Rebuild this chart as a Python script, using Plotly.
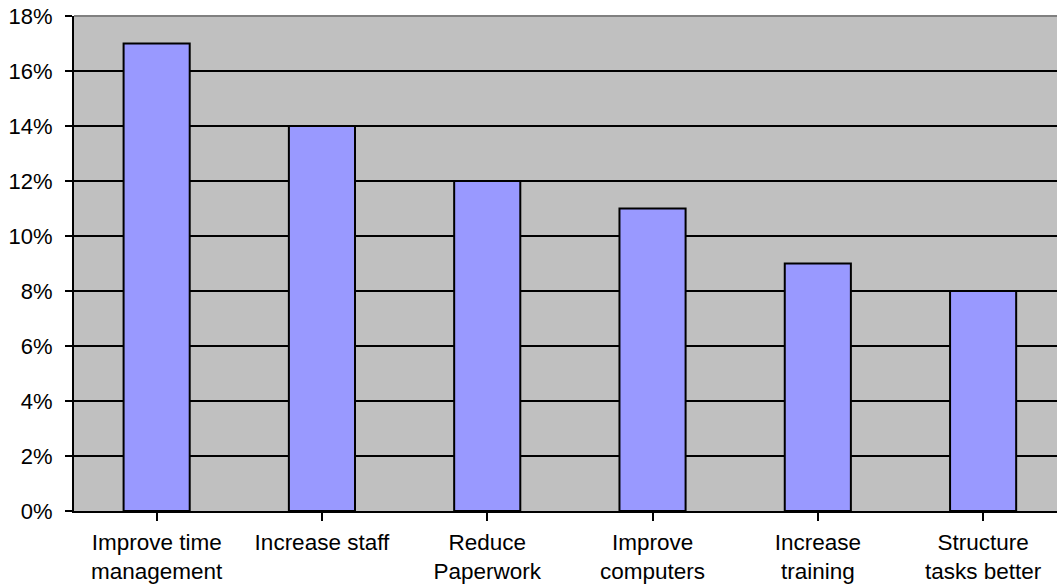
import plotly.graph_objects as go

categories = ["Improve time<br>management", "Increase staff", "Reduce<br>Paperwork",
              "Improve<br>computers", "Increase<br>training", "Structure<br>tasks better"]
values = [0.17, 0.14, 0.12, 0.11, 0.09, 0.08]
y_ticks = [0, 0.02, 0.04, 0.06, 0.08, 0.10, 0.12, 0.14, 0.16, 0.18]

fig = go.Figure(go.Bar(
    x=list(range(len(categories))), y=values, width=0.4,
    marker=dict(color="#9999FF", line=dict(color="black", width=2)),
))

family = "Liberation Sans, Arial, sans-serif"

fig.update_layout(
    width=1057, height=587,
    margin=dict(l=74, r=0, t=16, b=76),
    paper_bgcolor="white", plot_bgcolor="#C0C0C0",
    font=dict(family=family, size=22, color="black"), showlegend=False,
    xaxis=dict(
        range=[-0.5, 5.447], tickmode="array",
        tickvals=list(range(len(categories))), ticktext=categories,
        tickfont=dict(family=family, size=22.5, color="black"),
        tickson="boundaries", ticks="outside", ticklen=8, tickwidth=2, tickcolor="black",
        showline=True, linecolor="black", linewidth=2, showgrid=False,
        zeroline=False, ticklabelstandoff=2, automargin=False,
    ),
    yaxis=dict(
        range=[0, 0.18], tickvals=y_ticks, tickformat=".0%",
        tickfont=dict(family=family, size=22, color="black"),
        ticks="outside", ticklen=7, tickwidth=2, tickcolor="black",
        showline=True, linecolor="black", linewidth=2,
        showgrid=True, gridcolor="black", gridwidth=2, zeroline=False,
        ticklabelstandoff=8, automargin=False,
    ),
    shapes=[dict(type="line", xref="paper", yref="paper", x0=0, x1=1, y0=1, y1=1,
                 line=dict(color="#808080", width=2))],
)

fig.write_html("out.html")
